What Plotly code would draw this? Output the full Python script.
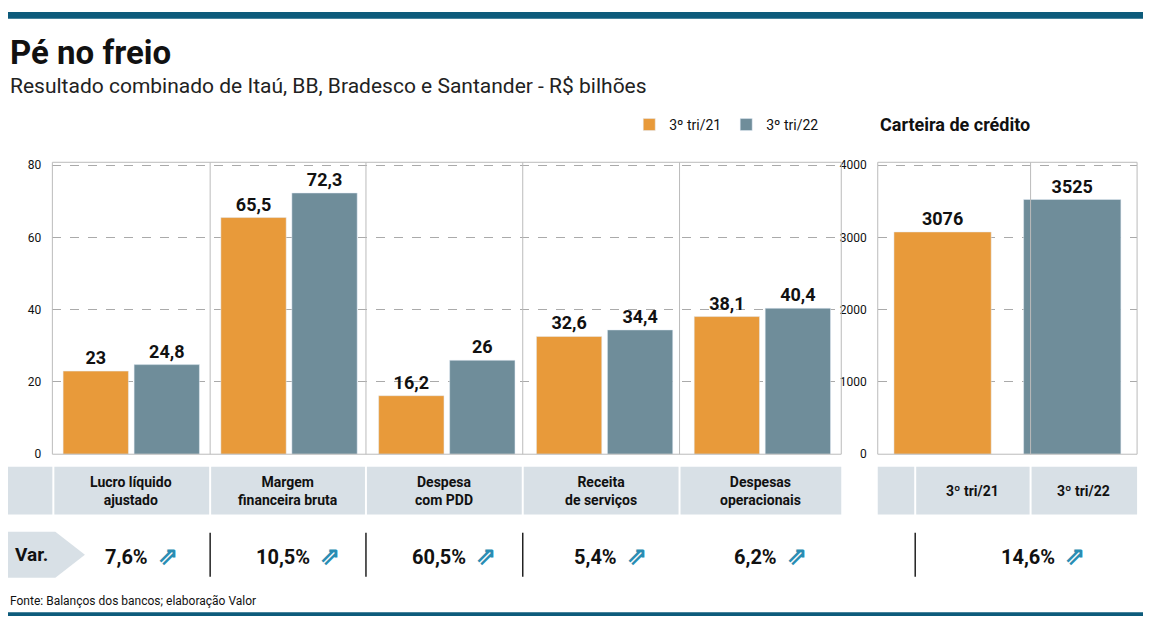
import plotly.graph_objects as go

W, H = 1151, 631

categories = ["Lucro líquido<br>ajustado", "Margem<br>financeira bruta", "Despesa<br>com PDD",
              "Receita<br>de serviços", "Despesas<br>operacionais"]
tri21 = [23, 65.5, 16.2, 32.6, 38.1]
tri22 = [24.8, 72.3, 26, 34.4, 40.4]
tri21_txt = ["23", "65,5", "16,2", "32,6", "38,1"]
tri22_txt = ["24,8", "72,3", "26", "34,4", "40,4"]
variations = ["7,6%", "10,5%", "60,5%", "5,4%", "6,2%"]

credit_periods = ["3º tri/21", "3º tri/22"]
credit_values = [3076, 3525]
credit_var = "14,6%"

ORANGE = "#e89a3a"
BLUE = "#6f8d9a"
BAND = "#d8e0e6"
TEAL = "#0d5b7b"
FONT = "Liberation Sans Narrow, Roboto, sans-serif"


def px(x=None, y=None):
    # convert pixel position to paper coordinates
    if x is not None:
        return x / W
    return 1 - y / H


def bold(vals):
    return [f"<b>{v}</b>" for v in vals]


fig = go.Figure()
fig.add_bar(x=list(range(5)), y=tri21, text=bold(tri21_txt), name="3º tri/21", marker_color=ORANGE,
            textposition="outside", textfont=dict(size=18, color="#111", family=FONT), cliponaxis=False)
fig.add_bar(x=list(range(5)), y=tri22, text=bold(tri22_txt), name="3º tri/22", marker_color=BLUE,
            textposition="outside", textfont=dict(size=18, color="#111", family=FONT), cliponaxis=False)
fig.add_bar(x=[0, 1], y=credit_values, text=bold(credit_values), xaxis="x2", yaxis="y2",
            marker_color=[ORANGE, BLUE], showlegend=False, textposition="outside",
            textfont=dict(size=18, color="#111", family=FONT), cliponaxis=False, width=0.75)

grid = dict(showgrid=True, gridcolor="#aaaaaa", griddash="dash", zeroline=False, showline=False,
            ticks="", tickfont=dict(size=12, family=FONT, color="#111"), ticklabelstandoff=10)
fig.update_layout(
    width=W - 16, height=H - 16, margin=dict(l=0, r=0, t=0, b=0),
    paper_bgcolor="white", plot_bgcolor="white",
    font=dict(family=FONT, color="#111"),
    barmode="group", bargap=0.1, bargroupgap=0.08,
    xaxis=dict(domain=[px(x=45), px(x=845)], range=[-0.5, 4.5], showticklabels=False, showgrid=False,
               zeroline=False),
    yaxis=dict(domain=[px(y=462), px(y=157)], range=[0, 80.8], tickvals=[0, 20, 40, 60, 80], **grid),
    xaxis2=dict(domain=[px(x=882), px(x=1145)], range=[-0.5, 1.5], showticklabels=False, showgrid=False,
                zeroline=False, anchor="y2"),
    yaxis2=dict(domain=[px(y=462), px(y=157)], range=[0, 4040], tickvals=[0, 1000, 2000, 3000, 4000],
                anchor="x2", **grid),
    legend=dict(orientation="h", x=px(x=630), y=px(y=118), yanchor="middle", xanchor="left",
                font=dict(size=14, family=FONT), traceorder="normal", itemwidth=30),
)

shapes = []
# top and bottom rules
shapes.append(dict(type="rect", xref="paper", yref="paper", x0=0, x1=1, y0=px(y=7), y1=1,
                   fillcolor=TEAL, line_width=0))
shapes.append(dict(type="rect", xref="paper", yref="paper", x0=0, x1=1, y0=0, y1=px(y=627),
                   fillcolor=TEAL, line_width=0))
# plot frames and category separators
for x0, x1 in [(45, 845), (882, 1145)]:
    shapes.append(dict(type="rect", xref="paper", yref="paper", x0=px(x=x0), x1=px(x=x1),
                       y0=px(y=462), y1=px(y=157), line=dict(color="#bbbbbb", width=1)))
for xs in [205, 363, 522, 681, 1037]:
    shapes.append(dict(type="line", xref="paper", yref="paper", x0=px(x=xs), x1=px(x=xs),
                       y0=px(y=462), y1=px(y=157), line=dict(color="#bbbbbb", width=1)))
# category bands
for x0, x1 in [(0, 45), (47, 204), (206, 362), (364, 521), (523, 680), (682, 845),
               (882, 919), (921, 1036), (1038, 1145)]:
    shapes.append(dict(type="rect", xref="paper", yref="paper", x0=px(x=x0), x1=px(x=x1),
                       y0=px(y=525), y1=px(y=475), fillcolor=BAND, line_width=0))
# "Var." arrow tag
shapes.append(dict(type="path", xref="paper", yref="paper",
                   path=f"M 0 {px(y=543)} L {px(x=48)} {px(y=543)} L {px(x=78)} {px(y=567)} "
                        f"L {px(x=48)} {px(y=591)} L 0 {px(y=591)} Z",
                   fillcolor=BAND, line_width=0))
for xs in [205, 363, 522, 920]:
    shapes.append(dict(type="line", xref="paper", yref="paper", x0=px(x=xs), x1=px(x=xs),
                       y0=px(y=590), y1=px(y=544), line=dict(color="#222", width=1.5)))
fig.update_layout(shapes=shapes)

ann = [
    dict(x=0, y=px(y=42), text="<b>Pé no freio</b>", font=dict(size=33, family=FONT, color="#111"),
         xanchor="left"),
    dict(x=0, y=px(y=77), text="Resultado combinado de Itaú, BB, Bradesco e Santander - R$ bilhões",
         font=dict(size=21, family=FONT, color="#222"), xanchor="left"),
    dict(x=px(x=882), y=px(y=118), text="<b>Carteira de crédito</b>", font=dict(size=18, family=FONT),
         xanchor="left"),
    dict(x=px(x=5), y=px(y=567), text="<b>Var.</b>", font=dict(size=19, family=FONT), xanchor="left"),
    dict(x=0, y=px(y=615), text="Fonte: Balanços dos bancos; elaboração Valor",
         font=dict(size=12, family=FONT), xanchor="left"),
]
centers = [125, 284, 442, 601, 763]
for c, cat, v in zip(centers, categories, variations):
    ann.append(dict(x=px(x=c), y=px(y=500), text=f"<b>{cat}</b>", font=dict(size=14, family=FONT),
                    xanchor="center"))
    ann.append(dict(x=px(x=c + 10), y=px(y=568),
                    text=f"<b>{v}</b>  <b><span style='color:#2a8db3;font-size:24px'>⇗</span></b>",
                    font=dict(size=20, family=FONT), xanchor="center"))
for c, p in zip([978, 1091], credit_periods):
    ann.append(dict(x=px(x=c), y=px(y=500), text=f"<b>{p}</b>", font=dict(size=14, family=FONT),
                    xanchor="center"))
ann.append(dict(x=px(x=1050), y=px(y=568),
                text=f"<b>{credit_var}</b>  <b><span style='color:#2a8db3;font-size:24px'>⇗</span></b>",
                font=dict(size=20, family=FONT), xanchor="center"))
for a in ann:
    a.update(xref="paper", yref="paper", showarrow=False, yanchor="middle")
fig.update_layout(annotations=ann)

fig.write_html("out.html")
